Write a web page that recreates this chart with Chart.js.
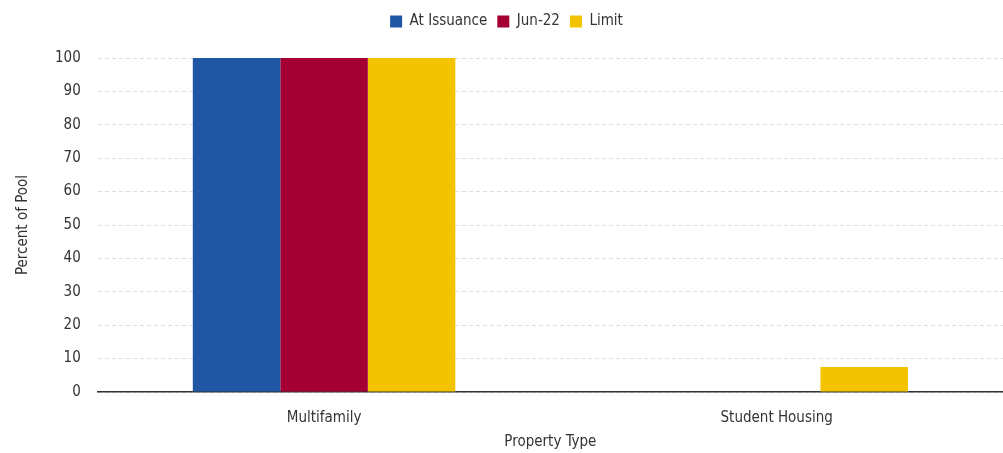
<!DOCTYPE html>
<html>
<head>
<meta charset="utf-8">
<script src="https://cdn.jsdelivr.net/npm/chart.js@4/dist/chart.umd.min.js"></script>
<style>
  html, body { margin: 0; padding: 0; background: #fff; }
  #wrap { width: 1003px; height: 453px; }
</style>
</head>
<body>
<div id="wrap"><canvas id="chart"></canvas></div>
<script>
const categories = ['Multifamily', 'Student Housing'];
const atIssuance = [100, null];
const jun22      = [100, null];
const limit      = [100, 7.5];
const yTicks     = [0, 10, 20, 30, 40, 50, 60, 70, 80, 90, 100];

const FONT = "'DejaVu Sans Condensed', 'Liberation Sans Narrow', sans-serif";
const TEXT = '#333333';

Chart.defaults.font.family = FONT;
Chart.defaults.font.size   = 15;
Chart.defaults.color       = TEXT;

// push plot area down below legend
const legendGap = {
  id: 'legendGap',
  beforeInit(chart) {
    const fit = chart.legend.fit;
    chart.legend.fit = function () { fit.bind(chart.legend)(); this.height += 19; };
  },
};

new Chart(document.getElementById('chart'), {
  type: 'bar',
  data: {
    labels: categories,
    datasets: [
      { label: 'At Issuance', data: atIssuance, backgroundColor: '#1F57A5' },
      { label: 'Jun-22',      data: jun22,      backgroundColor: '#A50034' },
      { label: 'Limit',       data: limit,      backgroundColor: '#F4C300' },
    ],
  },
  plugins: [legendGap],
  options: {
    responsive: true, maintainAspectRatio: false, animation: false,
    datasets: { bar: { barPercentage: 1, categoryPercentage: 0.58 } },
    layout: { padding: { left: 10, right: 0, top: 4, bottom: 2 } },
    plugins: {
      legend: {
        labels: { boxWidth: 12, boxHeight: 12, padding: 10, color: TEXT, font: { size: 15 } },
      },
      tooltip: { enabled: false },
    },
    scales: {
      x: {
        grid: { display: false, drawTicks: false },
        border: { color: '#333', width: 1.5 },
        ticks: { color: TEXT, font: { size: 15 }, padding: 17 },
        title: { display: true, text: 'Property Type', color: TEXT, font: { size: 15 }, padding: { top: -11, bottom: 0 } },
      },
      y: {
        min: 0, max: 100,
        afterBuildTicks: axis => { axis.ticks = yTicks.map(v => ({ value: v })); },
        grid: { color: '#dddddd', drawTicks: false },
        border: { display: false, dash: [4, 3] },
        ticks: { color: TEXT, font: { size: 15 }, padding: 17 },
        title: { display: true, text: 'Percent of Pool', color: TEXT, font: { size: 15 }, padding: { bottom: 6 } },
      },
    },
  },
});
</script>
</body>
</html>
